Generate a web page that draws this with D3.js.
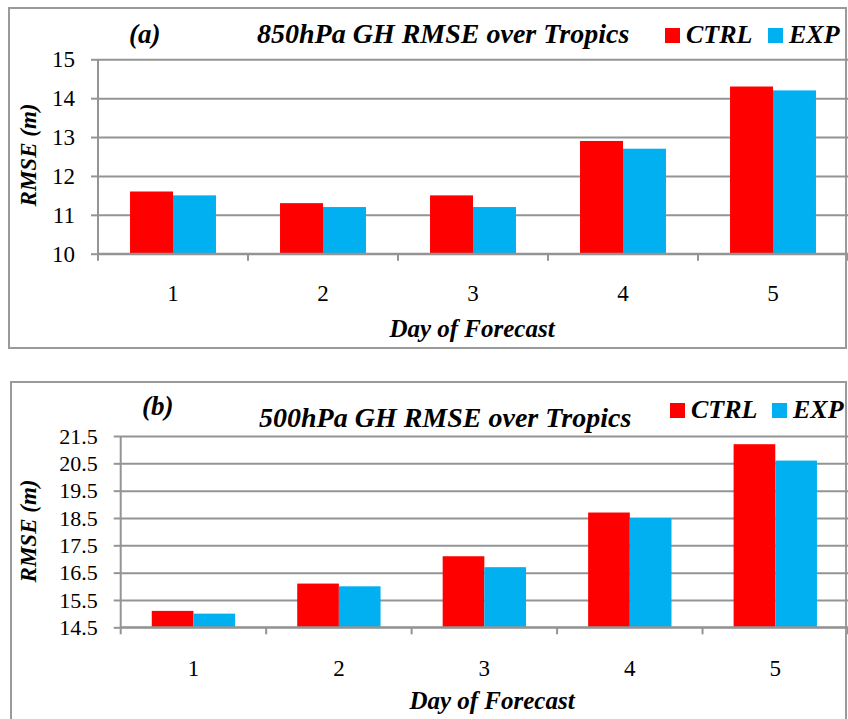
<!DOCTYPE html>
<html>
<head>
<meta charset="utf-8">
<script src="https://cdn.jsdelivr.net/npm/d3@7"></script>
<style>
  body { margin: 0; background: #fff; }
  svg text { fill: #000; }
</style>
</head>
<body>
<svg id="chart" width="848" height="719"></svg>
<script>
// values
var days = ["1", "2", "3", "4", "5"];
var seriesNames = ["CTRL", "EXP"];
var ctrl850 = [11.6, 11.3, 11.5, 12.9, 14.3];
var exp850 = [11.5, 11.2, 11.2, 12.7, 14.2];
var ticks850 = [10, 11, 12, 13, 14, 15];
var ctrl500 = [15.1, 16.1, 17.1, 18.7, 21.2];
var exp500 = [15.0, 16.0, 16.7, 18.5, 20.6];
var ticks500 = [14.5, 15.5, 16.5, 17.5, 18.5, 19.5, 20.5, 21.5];

var colors = { CTRL: "#ff0000", EXP: "#00b0f0" };
var gridColor = "#949494";
var serif = '"Liberation Serif", "Times New Roman", serif';

var svg = d3.select("#chart");

function drawPanel(p) {
    var g = svg.append("g").style("font-family", serif);

    // frame
    g.append("rect")
        .attr("x", p.box[0]).attr("y", p.box[1])
        .attr("width", p.box[2]).attr("height", p.box[3])
        .attr("fill", "none")
        .attr("stroke", "#9a9a9a")
        .attr("stroke-width", 2);

    var y = d3.scaleLinear()
        .domain([p.ticks[0], p.ticks[p.ticks.length - 1]])
        .range([p.bottom, p.top]);
    var x = d3.scaleBand()
        .domain(days)
        .range([p.left, p.right])
        .paddingInner(0.427)
        .paddingOuter(0.2135);
    var xs = d3.scaleBand().domain(seriesNames).range([0, x.bandwidth()]);

    // gridlines
    g.append("g")
        .attr("transform", `translate(${p.left},0)`)
        .call(d3.axisLeft(y).tickValues(p.ticks).tickSize(-(p.right - p.left)).tickFormat(""))
        .call(a => a.select(".domain").remove())
        .selectAll("line")
        .attr("stroke", gridColor)
        .attr("stroke-width", 2);

    // y axis with outside ticks
    var ya = g.append("g")
        .attr("transform", `translate(${p.left},0)`)
        .call(d3.axisLeft(y).tickValues(p.ticks).tickSize(7).tickPadding(p.tickPad)
            .tickFormat(p.fmt));
    ya.attr("font-family", null);
    ya.select(".domain").attr("stroke", gridColor).attr("stroke-width", 2)
        .attr("d", `M0,${p.top}V${p.bottom}`);
    ya.selectAll("line").attr("stroke", gridColor).attr("stroke-width", 2);
    ya.selectAll("text")
        .attr("font-size", p.tickFont)
        .style("font-family", serif)
        .attr("fill", "#000");

    // bars
    var rows = days.map((d, i) => ({ day: d, CTRL: p.ctrl[i], EXP: p.exp[i] }));
    g.append("g")
        .selectAll("g")
        .data(rows)
        .join("g")
        .attr("transform", d => `translate(${x(d.day)},0)`)
        .selectAll("rect")
        .data(d => seriesNames.map(k => ({ key: k, value: d[k] })))
        .join("rect")
        .attr("x", d => xs(d.key))
        .attr("width", xs.bandwidth())
        .attr("y", d => y(d.value))
        .attr("height", d => y(p.ticks[0]) - y(d.value))
        .attr("fill", d => colors[d.key]);

    // x axis line + ticks between categories
    g.append("line")
        .attr("x1", p.left).attr("x2", p.right)
        .attr("y1", p.bottom).attr("y2", p.bottom)
        .attr("stroke", gridColor).attr("stroke-width", 2);
    g.append("g")
        .selectAll("line")
        .data(d3.range(days.length + 1))
        .join("line")
        .attr("x1", i => p.left + i * x.step())
        .attr("x2", i => p.left + i * x.step())
        .attr("y1", p.bottom)
        .attr("y2", p.bottom + 7)
        .attr("stroke", gridColor).attr("stroke-width", 2);

    g.append("g")
        .selectAll("text")
        .data(days)
        .join("text")
        .attr("x", d => x(d) + x.bandwidth() / 2)
        .attr("y", p.xLabelY)
        .attr("text-anchor", "middle")
        .attr("font-size", 23)
        .text(d => d);

    // axis titles
    g.append("text")
        .attr("x", p.xTitle[0]).attr("y", p.xTitle[1])
        .attr("text-anchor", "middle")
        .attr("font-size", 25)
        .attr("font-weight", "bold").attr("font-style", "italic")
        .text("Day of Forecast");
    g.append("text")
        .attr("transform", `translate(${p.yTitle[0]},${p.yTitle[1]}) rotate(-90)`)
        .attr("text-anchor", "middle")
        .attr("font-size", 23)
        .attr("font-weight", "bold").attr("font-style", "italic")
        .text("RMSE (m)");

    // panel letter and title
    g.append("text")
        .attr("x", p.letter[0]).attr("y", p.letter[1])
        .attr("font-size", 27)
        .attr("font-weight", "bold").attr("font-style", "italic")
        .text(p.letterText);
    g.append("text")
        .attr("x", p.title[0]).attr("y", p.title[1])
        .attr("font-size", 28)
        .attr("font-weight", "bold").attr("font-style", "italic")
        .text(p.titleText);

    // legend
    var lg = g.append("g").attr("transform", `translate(${p.legend[0]},${p.legend[1]})`);
    var offs = [0, p.legendGap];
    seriesNames.forEach((k, i) => {
        lg.append("rect")
            .attr("x", offs[i]).attr("y", -15)
            .attr("width", 15).attr("height", 15)
            .attr("fill", colors[k]);
        lg.append("text")
            .attr("x", offs[i] + 21).attr("y", 0)
            .attr("font-size", 26)
            .attr("font-style", "italic")
            .attr("font-weight", "bold")
            .text(k);
    });
}

drawPanel({
    box: [9, 8, 837, 340],
    left: 98, right: 848, top: 59.3, bottom: 253.7,
    ticks: ticks850, fmt: d3.format("d"), tickFont: 23, tickPad: 16,
    ctrl: ctrl850, exp: exp850,
    xLabelY: 301, xTitle: [472, 337], yTitle: [36, 155],
    letter: [129, 43], letterText: "(a)",
    title: [257, 43], titleText: "850hPa GH RMSE over Tropics",
    legend: [665, 43], legendGap: 103
});

drawPanel({
    box: [11, 382, 835, 400],
    left: 120.7, right: 848, top: 436, bottom: 627.3,
    ticks: ticks500, fmt: d3.format(".1f"), tickFont: 22, tickPad: 16,
    ctrl: ctrl500, exp: exp500,
    xLabelY: 676, xTitle: [492, 709], yTitle: [36, 531],
    letter: [142, 415], letterText: "(b)",
    title: [259, 427], titleText: "500hPa GH RMSE over Tropics",
    legend: [670, 418], legendGap: 102
});
</script>
</body>
</html>
